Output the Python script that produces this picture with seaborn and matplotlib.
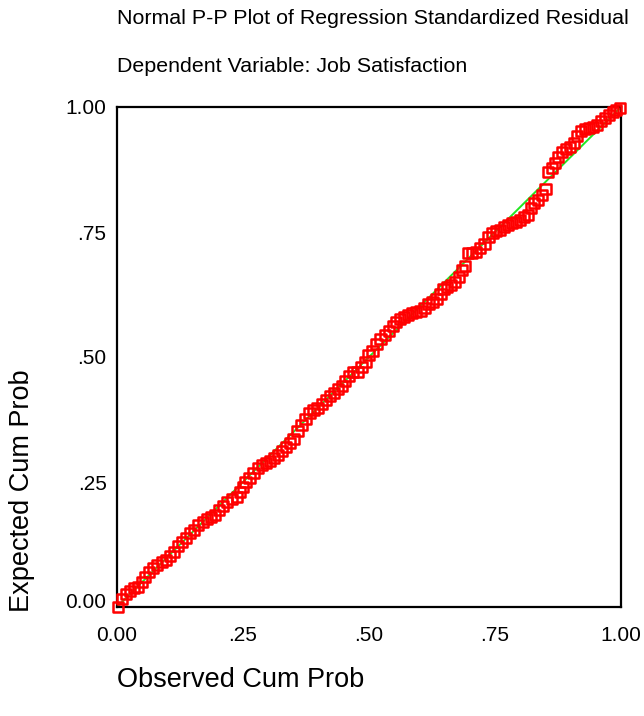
import matplotlib
matplotlib.use("Agg")
import matplotlib.pyplot as plt
import matplotlib.transforms as mtransforms
import seaborn as sns
import pandas as pd

observed = [0.002, 0.010, 0.018, 0.026, 0.034, 0.042, 0.050, 0.055, 0.063, 0.071,
            0.079, 0.089, 0.097, 0.105, 0.113, 0.121, 0.129, 0.137, 0.145, 0.152,
            0.160, 0.170, 0.178, 0.186, 0.194, 0.202, 0.210, 0.218, 0.228, 0.238,
            0.244, 0.250, 0.255, 0.263, 0.271, 0.279, 0.287, 0.295, 0.303, 0.311,
            0.319, 0.327, 0.335, 0.343, 0.350, 0.358, 0.366, 0.374, 0.382, 0.390,
            0.398, 0.406, 0.414, 0.422, 0.430, 0.438, 0.446, 0.453, 0.461, 0.469,
            0.477, 0.485, 0.493, 0.499, 0.507, 0.515, 0.523, 0.531, 0.539, 0.547,
            0.554, 0.562, 0.570, 0.578, 0.586, 0.594, 0.602, 0.610, 0.618, 0.626,
            0.634, 0.642, 0.648, 0.655, 0.663, 0.671, 0.679, 0.685, 0.691, 0.697,
            0.705, 0.713, 0.721, 0.729, 0.737, 0.745, 0.752, 0.760, 0.768, 0.776,
            0.784, 0.792, 0.800, 0.808, 0.816, 0.822, 0.828, 0.836, 0.844, 0.850,
            0.855, 0.863, 0.869, 0.875, 0.883, 0.891, 0.899, 0.907, 0.913, 0.921,
            0.929, 0.937, 0.945, 0.952, 0.960, 0.968, 0.976, 0.984, 0.990, 0.998]

expected = [0.000, 0.016, 0.026, 0.032, 0.038, 0.040, 0.050, 0.060, 0.070, 0.078,
            0.084, 0.090, 0.094, 0.102, 0.110, 0.122, 0.130, 0.138, 0.148, 0.154,
            0.164, 0.170, 0.176, 0.180, 0.184, 0.194, 0.202, 0.210, 0.216, 0.220,
            0.230, 0.240, 0.250, 0.258, 0.268, 0.278, 0.284, 0.288, 0.292, 0.298,
            0.304, 0.312, 0.320, 0.328, 0.336, 0.352, 0.364, 0.376, 0.388, 0.394,
            0.398, 0.406, 0.414, 0.422, 0.428, 0.436, 0.442, 0.452, 0.462, 0.470,
            0.470, 0.480, 0.490, 0.504, 0.512, 0.526, 0.536, 0.544, 0.552, 0.562,
            0.570, 0.576, 0.580, 0.584, 0.588, 0.590, 0.592, 0.598, 0.606, 0.610,
            0.616, 0.626, 0.636, 0.640, 0.644, 0.650, 0.660, 0.674, 0.682, 0.708,
            0.708, 0.710, 0.718, 0.726, 0.740, 0.748, 0.752, 0.754, 0.760, 0.764,
            0.768, 0.770, 0.774, 0.780, 0.784, 0.798, 0.808, 0.814, 0.824, 0.836,
            0.870, 0.878, 0.888, 0.900, 0.910, 0.916, 0.920, 0.928, 0.942, 0.952,
            0.956, 0.958, 0.960, 0.964, 0.972, 0.978, 0.984, 0.990, 0.994, 0.998]

ref_line = [0.0, 1.0]
tick_values = [0.0, 0.25, 0.5, 0.75, 1.0]
tick_labels = ["0.00", ".25", ".50", ".75", "1.00"]

title_1 = "Normal P-P Plot of Regression Standardized Residual"
title_2 = "Dependent Variable: Job Satisfaction"
x_label = "Observed Cum Prob"
y_label = "Expected Cum Prob"

sns.set_style("white")
plt.rcParams["font.family"] = ["Liberation Sans", "DejaVu Sans"]
plt.rcParams["text.color"] = "black"

df = pd.DataFrame({"observed": observed, "expected": expected})
ref = pd.DataFrame({"x": ref_line, "y": ref_line})

fig = plt.figure(figsize=(6.44, 7.16), dpi=100)
ax = fig.add_axes([117 / 644, 1 - 607 / 716, 504 / 644, 500 / 716])

sns.lineplot(data=ref, x="x", y="y", ax=ax, color="#22e622", linewidth=1.4, zorder=2)
sns.scatterplot(data=df, x="observed", y="expected", ax=ax, marker="s", s=54,
                facecolor="none", edgecolor="#ff0000", linewidth=1.8, zorder=3,
                clip_on=False)

ax.set_xlim(0, 1)
ax.set_ylim(0, 1)
ax.set_xticks(tick_values)
ax.set_xticklabels(tick_labels)
ax.set_yticks(tick_values)
ax.set_yticklabels(tick_labels)
ax.set_xlabel("")
ax.set_ylabel("")
for s in ax.spines.values():
    s.set_color("black")
    s.set_linewidth(1.6)
    s.set_visible(True)
ax.tick_params(axis="both", which="both", direction="inout", length=3, width=3,
               color="black", labelsize=15, labelcolor="black")
ax.tick_params(axis="x", pad=12)
ax.tick_params(axis="y", pad=6)
ax.grid(False)

# SPSS lifts the lowest y label slightly above its tick
lab0 = ax.get_yticklabels()[0]
lab0.set_transform(lab0.get_transform() +
                   mtransforms.ScaledTranslation(0, 0.07, fig.dpi_scale_trans))

fig.text(117 / 644, 1 - 18 / 716, title_1, fontsize=15.4, ha="left", va="center",
         color="black")
fig.text(117 / 644, 1 - 67 / 716, title_2, fontsize=15.4, ha="left", va="center",
         color="black")
fig.text(117 / 644, 1 - 680 / 716, x_label, fontsize=19.5, ha="left", va="center",
         color="black")
fig.text(22 / 644, 1 - 612 / 716, y_label, fontsize=19.5, ha="center", va="bottom",
         rotation=90, color="black")

fig.savefig("out.png", dpi=100)
